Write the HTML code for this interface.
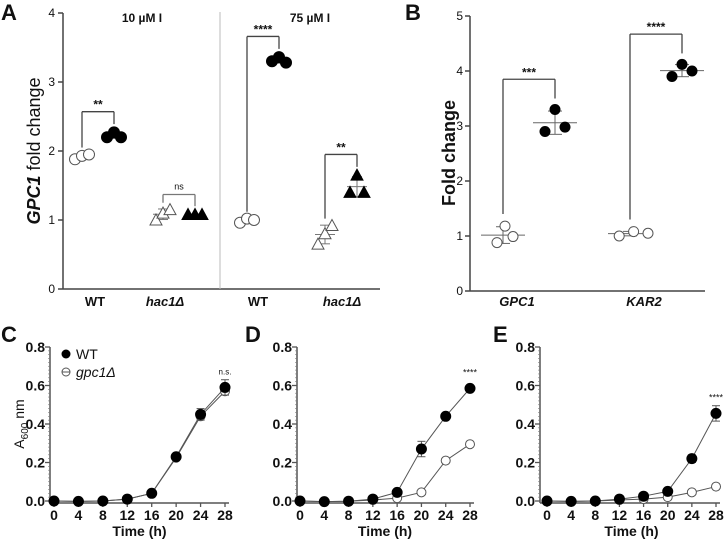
<!DOCTYPE html>
<html><head><meta charset="utf-8"><style>
body{margin:0;background:#fff}
svg{display:block;font-family:"Liberation Sans",Arial,sans-serif}
text{fill:#111}
</style></head><body>
<svg id="fig" width="724" height="540" viewBox="0 0 724 540"></svg>
<script>
// Panel A data
const aGroups=["10 µM WT","10 µM hac1","75 µM WT","75 µM hac1"];
const aOpen=[[1.88,1.93,1.95],[1.0,1.1,1.15],[0.96,1.02,1.0],[0.65,0.8,0.92]];
const aFilled=[[2.2,2.27,2.2],[1.08,1.08,1.08],[3.3,3.36,3.28],[1.4,1.65,1.4]];
const aSig=["**","ns","****","**"];
const aTicks=[0,1,2,3,4];
// Panel B data
const bGenes=["GPC1","KAR2"];
const bOpen=[[0.88,1.18,0.99],[1.0,1.08,1.05]];
const bFilled=[[2.9,3.3,2.98],[3.9,4.12,4.0]];
const bSig=["***","****"];
const bTicks=[0,1,2,3,4,5];
// Panels C-E growth data
const times=[0,4,8,12,16,20,24,28];
const cWT=[0,-0.002,0,0.01,0.04,0.23,0.45,0.59];
const cKO=[0,-0.002,0,0.01,0.04,0.225,0.44,0.57];
const cErrWT=[0,0,0,0,0,0,0.03,0.04];
const dWT=[0,-0.003,-0.001,0.01,0.045,0.27,0.44,0.585];
const dKO=[0,-0.003,-0.001,0.005,0.015,0.045,0.21,0.295];
const dErrWT=[0,0,0,0,0,0.04,0,0];
const eWT=[0,-0.002,0,0.01,0.025,0.05,0.22,0.455];
const eKO=[0,-0.002,0,0.005,0.01,0.02,0.045,0.075];
const eErrWT=[0,0,0,0,0,0,0.02,0.04];
const gTicks=[0,0.2,0.4,0.6,0.8];
const xTicks=[0,4,8,12,16,20,24,28];

const NS="http://www.w3.org/2000/svg";
const svg=document.getElementById('fig');
function el(tag,attrs,parent,txt){const e=document.createElementNS(NS,tag);for(const k in attrs)e.setAttribute(k,attrs[k]);if(txt!==undefined)e.textContent=txt;(parent||svg).appendChild(e);return e;}
function line(x1,y1,x2,y2,c,w,p){return el('line',{x1,y1,x2,y2,stroke:c||'#333','stroke-width':w||1.5},p);}
function mean(a){return a.reduce((s,v)=>s+v,0)/a.length;}
function sd(a){const m=mean(a);return Math.sqrt(a.reduce((s,v)=>s+(v-m)*(v-m),0)/(a.length-1));}

function label(t,x,y){const e=el('text',{x,y,'font-size':22,'font-weight':'bold'},svg,t);

}

// ---------- Panel A ----------
(function(){
const g=el('g',{});
const y=v=>289-v*69;
line(63,y(4),63,289,'#444',1.5,g);line(63,289,380,289,'#444',1.5,g);
line(220,12,220,289,'#bbb',1,g);
aTicks.forEach(t=>{line(58,y(t),63,y(t),'#444',1.5,g);const tx=el('text',{x:55,y:y(t)+4,'font-size':12,'text-anchor':'end'},g,t);
});
const yt=el('text',{x:0,y:0,'font-size':18,'text-anchor':'middle',transform:'translate(40,151) rotate(-90)'},g);

el('tspan',{'font-weight':'bold','font-style':'italic'},yt,'GPC1');el('tspan',{},yt,' fold change');
const cx=[97,178,262,340];const lx=[95,165,258,342];const labs=["WT","hac1Δ","WT","hac1Δ"];
labs.forEach((l,i)=>{const t=el('text',{x:lx[i],y:306,'font-size':13,'font-weight':'bold','text-anchor':'middle','font-style':i%2?'italic':'normal'},g,l);
});
[["10 µM I",142],["75 µM I",310]].forEach(([t,x])=>{const e=el('text',{x,y:22,'font-size':12,'font-weight':'bold','text-anchor':'middle'},g,t);
});
const offs=[-5,0,5];
aGroups.forEach((gr,i)=>{
 const tri=i%2===1; const xo=cx[i]-15, xf=cx[i]+17;
 [[aOpen[i],xo,false],[aFilled[i],xf,true]].forEach(([vals,xc,fill])=>{
  const m=mean(vals),s=sd(vals);
  line(xc-10,y(m),xc+10,y(m),'#777',1,g);line(xc,y(m-s),xc,y(m+s),'#777',1,g);
  line(xc-5,y(m-s),xc+5,y(m-s),'#777',1,g);line(xc-5,y(m+s),xc+5,y(m+s),'#777',1,g);
  vals.forEach((v,k)=>{const px=xc+offs[k]+(k-1)*2,py=y(v);let m;
   if(tri)m=el('polygon',{points:`${px},${py-6} ${px-6},${py+5} ${px+6},${py+5}`,fill:fill?'#000':'#fff',stroke:fill?'#000':'#555','stroke-width':1},g);
   else m=el('circle',{cx:px,cy:py,r:5.5,fill:fill?'#000':'#fff',stroke:fill?'#000':'#555','stroke-width':1},g);
   });
 });
 let by= i===1? y(1.37): y(Math.max(...aFilled[i])+0.3);
 const c=i===1?'#777':'#444';
 line(xo,y(Math.max(...aOpen[i])+0.1),xo,by,c,1.3,g);line(xo,by,xf,by,c,1.3,g);line(xf,by,xf,y(Math.max(...aFilled[i])+0.12),c,1.3,g);
 const st=el('text',{x:(xo+xf)/2,y:by-(i===1?5:3),'font-size':i===1?9:12,'font-weight':i===1?'normal':'bold','text-anchor':'middle',fill:i===1?'#666':'#111'},g,aSig[i]);
 
});
})();
label('A',1,20);

// ---------- Panel B ----------
(function(){
const g=el('g',{});
const y=v=>291-v*55;
line(470,y(5),470,291,'#444',1.5,g);line(470,291,705,291,'#444',1.5,g);
bTicks.forEach(t=>{line(465,y(t),470,y(t),'#444',1.5,g);const tx=el('text',{x:463,y:y(t)+4,'font-size':12,'text-anchor':'end','fill':'#333'},g,t);
});
const yt=el('text',{x:0,y:0,'font-size':18,'font-weight':'bold','text-anchor':'middle',transform:'translate(455,153) rotate(-90)'},g,'Fold change');

const cx=[517,644];
bGenes.forEach((gn,i)=>{const t=el('text',{x:cx[i],y:306,'font-size':13,'font-weight':'bold','font-style':'italic','text-anchor':'middle'},g,gn);

 const xo=cx[i]-14, xf=cx[i]+38;const ox=[-6,2,10],fx=[-10,0,10];
 [[bOpen[i],xo,false,ox],[bFilled[i],xf,true,fx]].forEach(([vals,xc,fill,dx])=>{
  const m=mean(vals),s=sd(vals);
  line(xc-22,y(m),xc+22,y(m),'#666',1,g);line(xc,y(m-s),xc,y(m+s),'#666',1,g);
  line(xc-7,y(m-s),xc+7,y(m-s),'#666',1,g);line(xc-7,y(m+s),xc+7,y(m+s),'#666',1,g);
  vals.forEach((v,k)=>{const m2=el('circle',{cx:xc+dx[k]*(i===1&&!fill?1.8:1),cy:y(v),r:5,fill:fill?'#000':'#fff',stroke:fill?'#000':'#555','stroke-width':1},g);
   });
 });
 const by=y(Math.max(...bFilled[i])+0.55);
 const x1=cx[i]-14, x2=cx[i]+38;
 line(x1,y(Math.max(...bOpen[i])+0.22),x1,by,'#444',1.3,g);line(x1,by,x2,by,'#444',1.3,g);line(x2,by,x2,y(Math.max(...bFilled[i])+0.2),'#444',1.3,g);
 const st=el('text',{x:(x1+x2)/2,y:by-3,'font-size':12,'font-weight':'bold','text-anchor':'middle'},g,bSig[i]);
 
});
})();
label('B',405,20);

// ---------- Growth panels ----------
function growth(name,ax,x0,x28,wt,ko,err,sig,legend,ylab){
 const g=el('g',{});
 const X=t=>x0+(t/28)*(x28-x0), Y=v=>501-v*(154/0.8);
 line(ax,Y(0.8),ax,503,'#555',1.5,g);line(ax,503,x28+4,503,'#555',1.5,g);
 for(let v=0;v<=0.8001;v+=0.02){line(ax-2,Y(v),ax,Y(v),'#777',0.6,g);}
 gTicks.forEach(t=>{line(ax-5,Y(t),ax,Y(t),'#555',1.3,g);const tx=el('text',{x:ax-5,y:Y(t)+5,'font-size':14,'font-weight':'bold','text-anchor':'end'},g,t.toFixed(1));
  });
 xTicks.forEach(t=>{line(X(t),503,X(t),507,'#555',1.3,g);const tx=el('text',{x:X(t),y:520,'font-size':14,'font-weight':'bold','text-anchor':'middle'},g,t);
  });
 const xt=el('text',{x:(x0+x28)/2,y:536,'font-size':14,'font-weight':'bold','text-anchor':'middle'},g,'Time (h)');
 
 [[ko,false],[wt,true]].forEach(([s,fill])=>{
  const pl=el('polyline',{points:times.map((t,i)=>X(t)+','+Y(s[i])).join(' '),fill:'none',stroke:'#555','stroke-width':1},g);
  
  times.forEach((t,i)=>{
   if(fill&&err[i]>0){line(X(t),Y(s[i]-err[i]),X(t),Y(s[i]+err[i]),'#555',1,g);line(X(t)-4,Y(s[i]+err[i]),X(t)+4,Y(s[i]+err[i]),'#555',1,g);line(X(t)-4,Y(s[i]-err[i]),X(t)+4,Y(s[i]-err[i]),'#555',1,g);}
   const c=el('circle',{cx:X(t),cy:Y(s[i]),r:fill?5:4.5,fill:fill?'#000':'#fff',stroke:fill?'#000':'#555','stroke-width':1},g);
   });
 });
 const st=el('text',{x:X(28),y:Y(Math.max(...wt))-13,'font-size':sig==='n.s.'?8:9,'text-anchor':'middle',fill:'#444'},g,sig);
 
 if(ylab){const yt=el('text',{x:0,y:0,'font-size':14,'text-anchor':'middle',transform:'translate(24,424) rotate(-90)'},g);
  
  el('tspan',{},yt,'A');el('tspan',{'font-size':10,dy:4},yt,'600');el('tspan',{dy:-4},yt,' nm');}
 if(legend){
  const l1=el('circle',{cx:66,cy:354,r:4.5,fill:'#000'},g);
  const t1=el('text',{x:76,y:359,'font-size':14},g,'WT');
  const l2=el('circle',{cx:66,cy:372,r:4,fill:'#fff',stroke:'#555'},g);
  line(62,372,70,372,'#555',1,g);
  const t2=el('text',{x:76,y:377,'font-size':14,'font-style':'italic'},g,'gpc1Δ');
 }
}
growth('panel-c',50,54,225,cWT,cKO,cErrWT,'n.s.',true,true);
growth('panel-d',297,300,470,dWT,dKO,dErrWT,'****',false,false);
growth('panel-e',540,547,716,eWT,eKO,eErrWT,'****',false,false);
label('C',1,342);label('D',245,342);label('E',493,342);
</script>
</body></html>
